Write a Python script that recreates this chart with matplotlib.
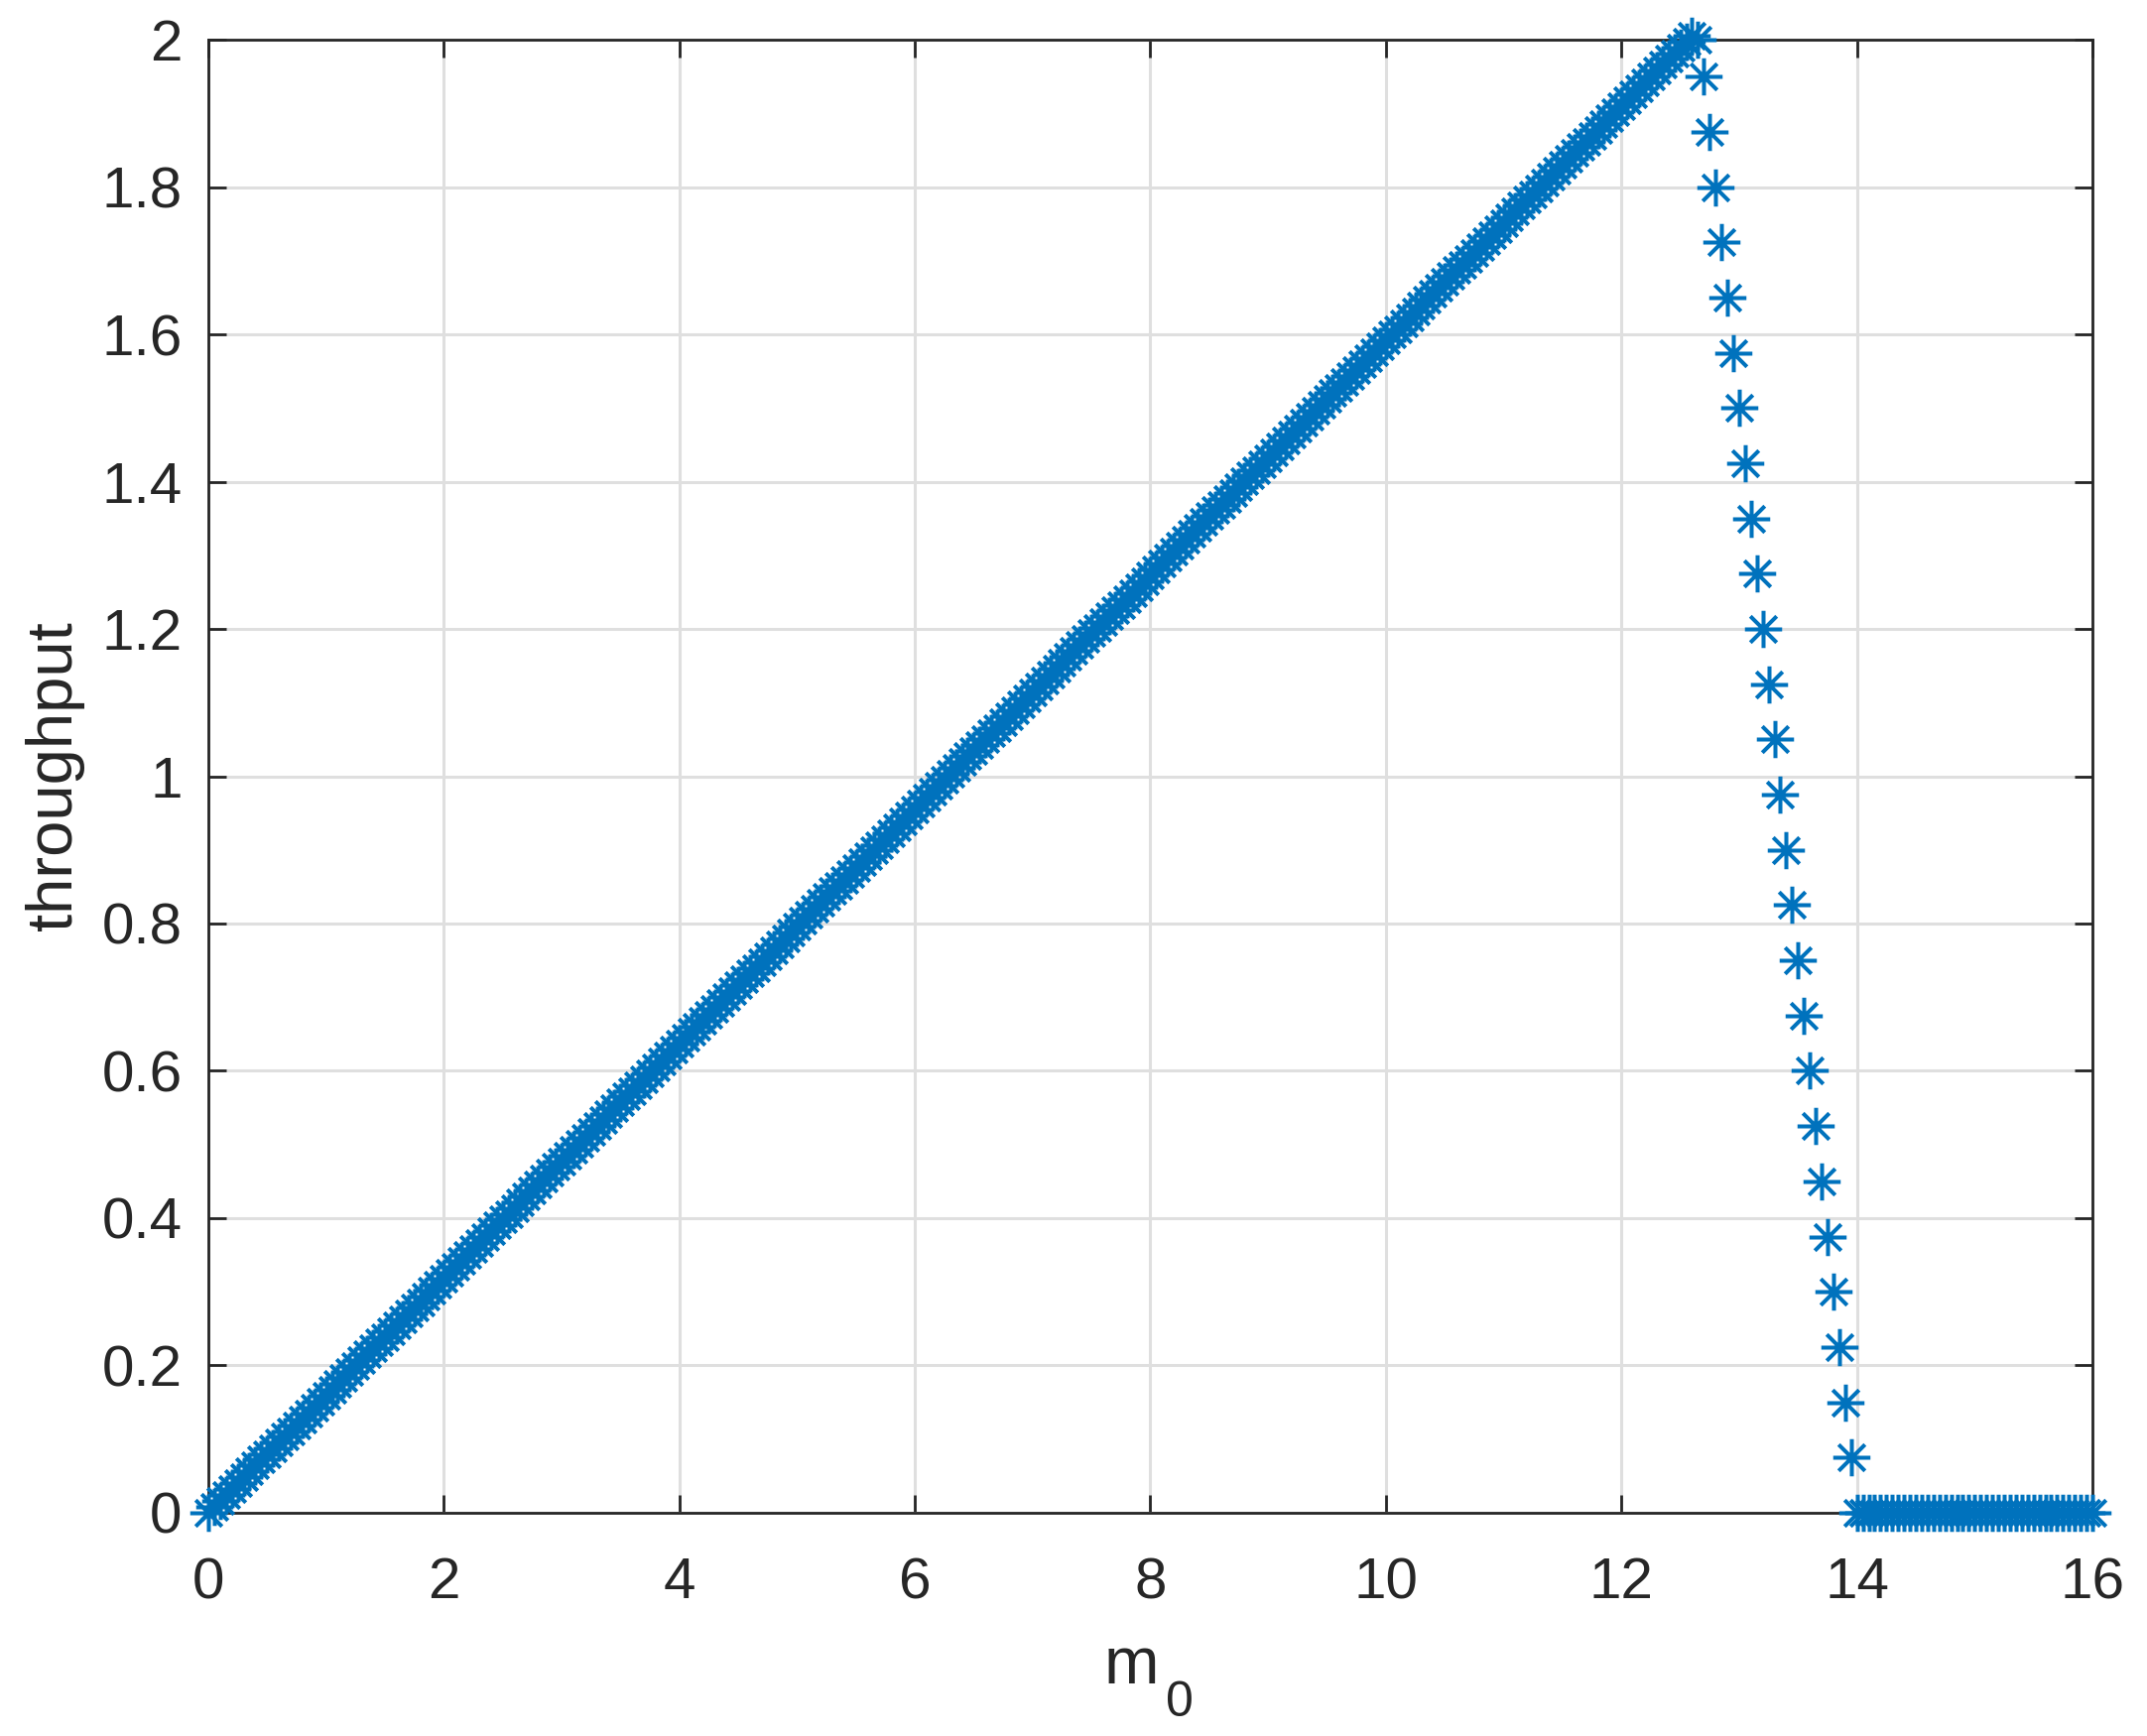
import numpy as np
import matplotlib
matplotlib.use("Agg")
import matplotlib.pyplot as plt
from matplotlib.path import Path
from matplotlib.ticker import FuncFormatter

plt.rcParams["font.family"] = ["Liberation Sans", "DejaVu Sans"]

# m0 sampled every 0.05 from 0 to 16 (321 samples)
m0 = np.round(np.arange(321) * 0.05, 2)

# throughput: rising part (0 .. 12.6)
thr_rise = [
    0.000, 0.008, 0.016, 0.024, 0.032, 0.040, 0.048, 0.056, 0.064, 0.072,
    0.080, 0.088, 0.096, 0.103, 0.111, 0.119, 0.127, 0.135, 0.143, 0.151,
    0.159, 0.167, 0.175, 0.183, 0.191, 0.199, 0.207, 0.215, 0.223, 0.231,
    0.239, 0.247, 0.255, 0.263, 0.271, 0.279, 0.286, 0.294, 0.302, 0.310,
    0.318, 0.326, 0.334, 0.342, 0.350, 0.358, 0.366, 0.374, 0.382, 0.390,
    0.398, 0.406, 0.414, 0.422, 0.430, 0.438, 0.446, 0.454, 0.462, 0.470,
    0.477, 0.485, 0.493, 0.501, 0.509, 0.517, 0.525, 0.533, 0.541, 0.549,
    0.557, 0.565, 0.573, 0.581, 0.589, 0.597, 0.605, 0.613, 0.621, 0.629,
    0.637, 0.645, 0.653, 0.660, 0.668, 0.676, 0.684, 0.692, 0.700, 0.708,
    0.716, 0.724, 0.732, 0.740, 0.748, 0.756, 0.764, 0.772, 0.780, 0.788,
    0.796, 0.804, 0.812, 0.820, 0.828, 0.836, 0.844, 0.851, 0.859, 0.867,
    0.875, 0.883, 0.891, 0.899, 0.907, 0.915, 0.923, 0.931, 0.939, 0.947,
    0.955, 0.963, 0.971, 0.979, 0.987, 0.995, 1.003, 1.011, 1.019, 1.027,
    1.035, 1.042, 1.050, 1.058, 1.066, 1.074, 1.082, 1.090, 1.098, 1.106,
    1.114, 1.122, 1.130, 1.138, 1.146, 1.154, 1.162, 1.170, 1.178, 1.186,
    1.194, 1.202, 1.210, 1.218, 1.225, 1.233, 1.241, 1.249, 1.257, 1.265,
    1.273, 1.281, 1.289, 1.297, 1.305, 1.313, 1.321, 1.329, 1.337, 1.345,
    1.353, 1.361, 1.369, 1.377, 1.385, 1.393, 1.401, 1.409, 1.416, 1.424,
    1.432, 1.440, 1.448, 1.456, 1.464, 1.472, 1.480, 1.488, 1.496, 1.504,
    1.512, 1.520, 1.528, 1.536, 1.544, 1.552, 1.560, 1.568, 1.576, 1.584,
    1.592, 1.600, 1.607, 1.615, 1.623, 1.631, 1.639, 1.647, 1.655, 1.663,
    1.671, 1.679, 1.687, 1.695, 1.703, 1.711, 1.719, 1.727, 1.735, 1.743,
    1.751, 1.759, 1.767, 1.775, 1.783, 1.790, 1.798, 1.806, 1.814, 1.822,
    1.830, 1.838, 1.846, 1.854, 1.862, 1.870, 1.878, 1.886, 1.894, 1.902,
    1.910, 1.918, 1.926, 1.934, 1.942, 1.950, 1.958, 1.966, 1.974, 1.981,
    1.989, 1.997, 2.005,
]
# peak and fall (12.65 .. 13.95)
thr_fall = [
    2.000, 1.950, 1.875, 1.800, 1.725, 1.650, 1.575, 1.500, 1.425, 1.350,
    1.275, 1.200, 1.125, 1.050, 0.975, 0.900, 0.825, 0.750, 0.675, 0.600,
    0.525, 0.450, 0.375, 0.300, 0.225, 0.150, 0.075,
]
# flat zero part (14 .. 16)
thr_zero = [0.0] * 41

throughput = np.array(thr_rise + thr_fall + thr_zero)

xticks = [0, 2, 4, 6, 8, 10, 12, 14, 16]
yticks = [0, 0.2, 0.4, 0.6, 0.8, 1, 1.2, 1.4, 1.6, 1.8, 2]

# 8-armed asterisk like matlab's '*'
d = np.sqrt(0.5)
star = Path(
    [(0, -1), (0, 1), (-1, 0), (1, 0), (-d, -d), (d, d), (-d, d), (d, -d)],
    [Path.MOVETO, Path.LINETO] * 4,
)

axcol = "#262626"
fig = plt.figure(figsize=(10.82, 8.75), dpi=200)
ax = fig.add_axes([0.0970, 0.1286, 0.8776, 0.8485])

ax.plot(m0, throughput, linestyle="none", marker=star, markersize=13.5,
        markeredgewidth=1.45, color="#0072BD", clip_on=False, zorder=5)

ax.set_xlim(0, 16)
ax.set_ylim(0, 2)
ax.set_xticks(xticks)
ax.set_yticks(yticks)
ax.yaxis.set_major_formatter(FuncFormatter(lambda v, p: f"{v:g}"))
ax.grid(True, color="#dfdfdf", linewidth=1.1)
ax.set_axisbelow(True)

for s in ax.spines.values():
    s.set_color(axcol)
    s.set_linewidth(1.0)
ax.tick_params(direction="in", length=6.5, width=1.0, colors=axcol,
               labelsize=21, top=True, right=True)
ax.tick_params(axis="x", pad=16)
ax.tick_params(axis="y", pad=9.5)

ax.set_ylabel("throughput", fontsize=23.5, color=axcol, labelpad=6)
fig.text(0.5397, 0.0303, "m", fontsize=24, color=axcol, ha="right", va="baseline")
fig.text(0.5430, 0.0114, "0", fontsize=18, color=axcol, ha="left", va="baseline")

fig.savefig("out.png", dpi=200, facecolor="white")
